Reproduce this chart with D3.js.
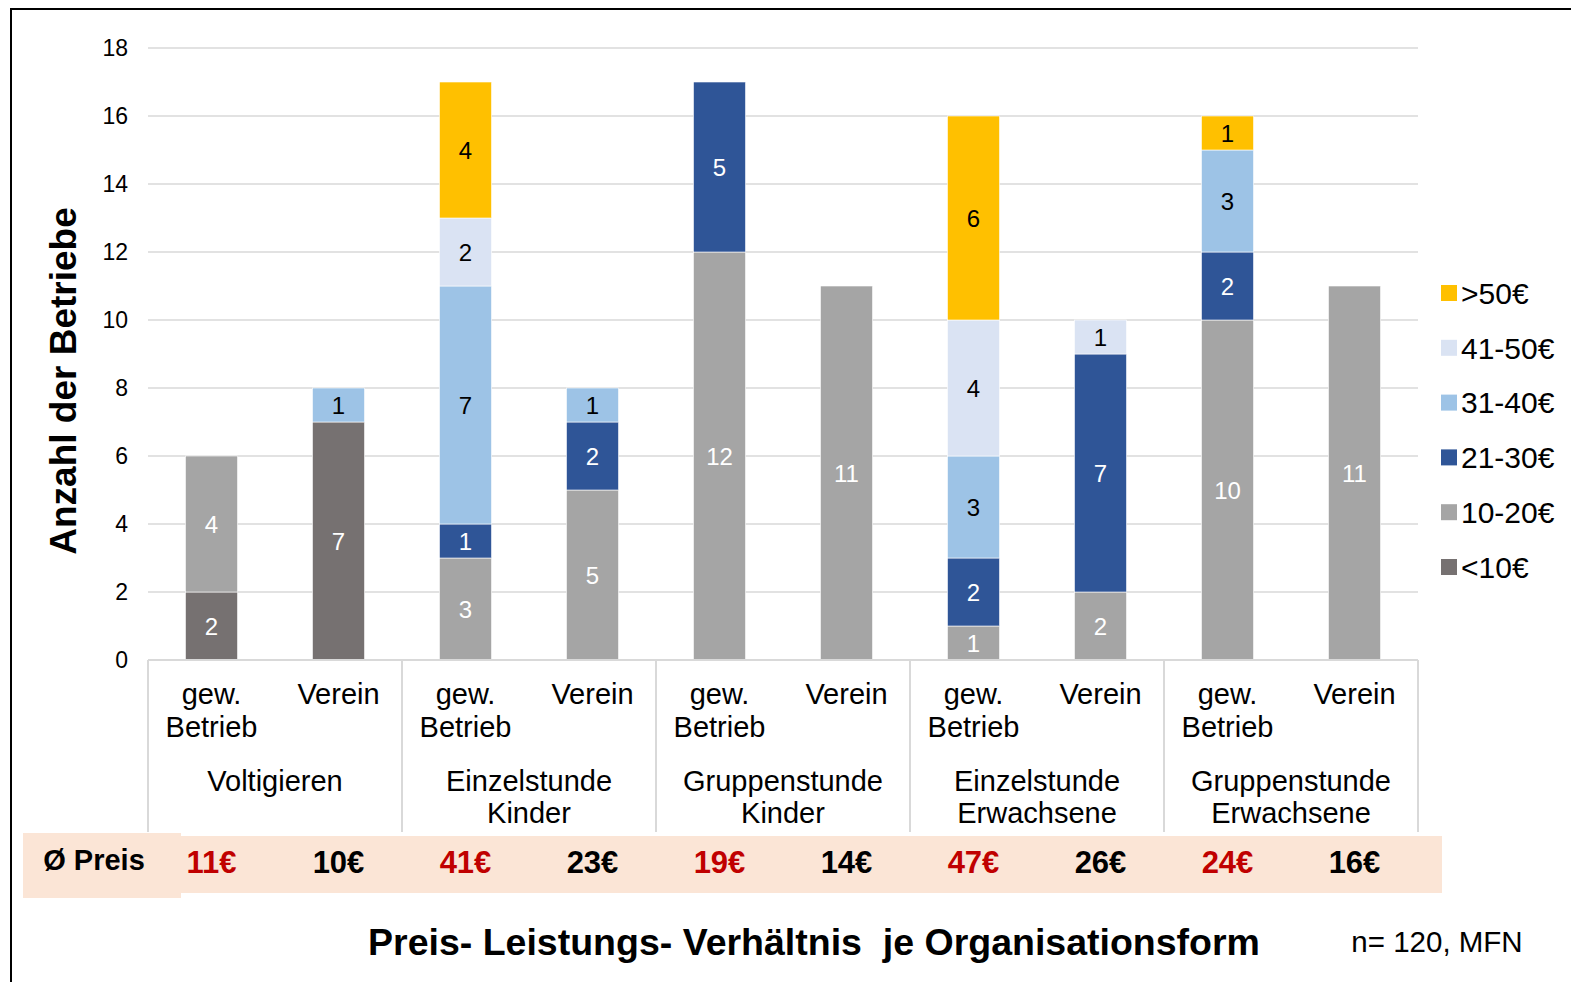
<!DOCTYPE html>
<html>
<head>
<meta charset="utf-8">
<script src="https://cdn.jsdelivr.net/npm/d3@7"></script>
<style>
  body { margin: 0; background: #fff; }
  svg { display: block; font-family: Arial, "Liberation Sans", sans-serif; }
</style>
</head>
<body>
<div id="chart"></div>
<script>

// data
var groups = ["Voltigieren", "Einzelstunde\nKinder", "Gruppenstunde\nKinder", "Einzelstunde\nErwachsene", "Gruppenstunde\nErwachsene"];
var orgForms = ["gew.\nBetrieb", "Verein"];
var priceClasses = ["<10€", "10-20€", "21-30€", "31-40€", "41-50€", ">50€"];
var classColors = ["#767171", "#A5A5A5", "#2F5597", "#9DC3E6", "#DAE3F3", "#FFC000"];
var labelColors = ["#fff", "#fff", "#fff", "#000", "#000", "#000"];

// one entry per bar, in order; one array per price class
var under10   = [2, 7, 0, 0, 0, 0, 0, 0, 0, 0];
var p10to20   = [4, 0, 3, 5, 12, 11, 1, 2, 10, 11];
var p21to30   = [0, 0, 1, 2, 5, 0, 2, 7, 2, 0];
var p31to40   = [0, 1, 7, 1, 0, 0, 3, 0, 3, 0];
var p41to50   = [0, 0, 2, 0, 0, 0, 4, 1, 0, 0];
var over50    = [0, 0, 4, 0, 0, 0, 6, 0, 1, 0];
var avgPrice  = ["11€", "10€", "41€", "23€", "19€", "14€", "47€", "26€", "24€", "16€"];

var yTicks = [0, 2, 4, 6, 8, 10, 12, 14, 16, 18];

var W = 1571, H = 982;
var plot = {left: 148, right: 1418, top: 48, bottom: 660};

var svg = d3.select("#chart").append("svg")
	.attr("width", W)
	.attr("height", H);

// outer frame
svg.append("rect")
	.attr("x", 11).attr("y", 9)
	.attr("width", W + 20).attr("height", H + 20)
	.attr("fill", "none")
	.attr("stroke", "#000")
	.attr("stroke-width", 2);

var series = [under10, p10to20, p21to30, p31to40, p41to50, over50];
var bars = d3.range(10).map(function(i){
	var row = {id: i};
	priceClasses.forEach(function(c, k){ row[c] = series[k][i]; });
	return row;
});

var y = d3.scaleLinear().domain([0, 18]).range([plot.bottom, plot.top]);
var xGroup = d3.scaleBand().domain(d3.range(groups.length)).range([plot.left, plot.right]);
var xBar = d3.scaleBand().domain(d3.range(bars.length)).range([plot.left, plot.right]).paddingInner(0.59).paddingOuter(0.295);

// gridlines
svg.append("g").selectAll("line").data(yTicks.slice(1))
	.enter().append("line")
	.attr("x1", plot.left).attr("x2", plot.right)
	.attr("y1", function(d){ return y(d); })
	.attr("y2", function(d){ return y(d); })
	.attr("stroke", "#D9D9D9")
	.attr("stroke-width", 1.5);

// y axis labels
var yAxis = svg.append("g")
	.attr("transform", "translate(" + (plot.left - 20) + ",0)")
	.call(d3.axisLeft(y).tickValues(yTicks).tickSize(0).tickPadding(0));
yAxis.select(".domain").remove();
yAxis.selectAll("text")
	.attr("font-size", 23)
	.attr("font-family", "Arial, 'Liberation Sans', sans-serif")
	.attr("fill", "#000");

// stacked bars
var stack = d3.stack().keys(priceClasses)(bars);

var layers = svg.append("g").selectAll("g").data(stack)
	.enter().append("g")
	.attr("fill", function(d, k){ return classColors[k]; });

layers.selectAll("rect").data(function(d){ return d.filter(function(s){ return s[1] > s[0]; }); })
	.enter().append("rect")
	.attr("x", function(d){ return xBar(d.data.id); })
	.attr("y", function(d){ return y(d[1]); })
	.attr("width", xBar.bandwidth())
	.attr("height", function(d){ return y(d[0]) - y(d[1]); })
	.attr("stroke", "#fff")
	.attr("stroke-width", 0.6);

layers.each(function(layer, k){
	d3.select(this).selectAll("text").data(layer.filter(function(s){ return s[1] > s[0]; }))
		.enter().append("text")
		.attr("x", function(d){ return xBar(d.data.id) + xBar.bandwidth() / 2; })
		.attr("y", function(d){ return y((d[0] + d[1]) / 2); })
		.attr("dy", "0.36em")
		.attr("text-anchor", "middle")
		.attr("font-size", 24)
		.attr("fill", labelColors[k])
		.text(function(d){ return d[1] - d[0]; });
});

// category axis
var axisG = svg.append("g").attr("stroke", "#D9D9D9").attr("stroke-width", 2);
axisG.append("line")
	.attr("x1", plot.left).attr("x2", plot.right)
	.attr("y1", plot.bottom).attr("y2", plot.bottom);
axisG.selectAll("line.sep").data(d3.range(groups.length + 1))
	.enter().append("line")
	.attr("class", "sep")
	.attr("x1", function(g){ return plot.left + g * xGroup.bandwidth(); })
	.attr("x2", function(g){ return plot.left + g * xGroup.bandwidth(); })
	.attr("y1", plot.bottom).attr("y2", 832);

function multiline(sel, lines, lineHeight){
	lines.forEach(function(l, i){
		sel.append("tspan")
			.attr("x", sel.attr("x"))
			.attr("dy", i == 0 ? 0 : lineHeight)
			.text(l);
	});
}

var labels = svg.append("g").attr("font-size", 29).attr("fill", "#000").attr("text-anchor", "middle");
bars.forEach(function(b){
	var t = labels.append("text")
		.attr("x", xBar(b.id) + xBar.bandwidth() / 2)
		.attr("y", 704);
	multiline(t, orgForms[b.id % 2].split("\n"), 33);
});
groups.forEach(function(g, i){
	var t = labels.append("text")
		.attr("x", xGroup(i) + xGroup.bandwidth() / 2)
		.attr("y", 791);
	multiline(t, g.split("\n"), 32);
});

// average price band
svg.append("rect")
	.attr("x", 181).attr("y", 836)
	.attr("width", 1442 - 181).attr("height", 57)
	.attr("fill", "#FBE5D6");
svg.append("rect")
	.attr("x", 23).attr("y", 833)
	.attr("width", 158).attr("height", 65)
	.attr("fill", "#FBE5D6");
svg.append("text")
	.attr("x", 94).attr("y", 870)
	.attr("text-anchor", "middle")
	.attr("font-size", 29)
	.attr("font-weight", "bold")
	.text("Ø Preis");

svg.append("g").selectAll("text").data(avgPrice)
	.enter().append("text")
	.attr("x", function(d, i){ return xBar(i) + xBar.bandwidth() / 2; })
	.attr("y", 873)
	.attr("text-anchor", "middle")
	.attr("font-size", 31)
	.attr("font-weight", "bold")
	.attr("fill", function(d, i){ return i % 2 == 0 ? "#C00000" : "#000"; })
	.text(function(d){ return d; });

// legend
var legend = svg.append("g").attr("transform", "translate(1440,0)");
var legendRows = priceClasses.slice().reverse();
legend.selectAll("rect").data(legendRows)
	.enter().append("rect")
	.attr("x", 1)
	.attr("y", function(d, i){ return 285 + i * 54.8; })
	.attr("width", 16).attr("height", 16)
	.attr("fill", function(d){ return classColors[priceClasses.indexOf(d)]; });
legend.selectAll("text").data(legendRows)
	.enter().append("text")
	.attr("x", 21)
	.attr("y", function(d, i){ return 293 + i * 54.8; })
	.attr("dy", "0.36em")
	.attr("font-size", 30)
	.text(function(d){ return d; });

// axis title
svg.append("text")
	.attr("transform", "translate(76,381) rotate(-90)")
	.attr("text-anchor", "middle")
	.attr("font-size", 37)
	.attr("font-weight", "bold")
	.text("Anzahl der Betriebe");

// chart title
svg.append("text")
	.attr("x", 814).attr("y", 955)
	.attr("text-anchor", "middle")
	.attr("font-size", 37.5)
	.attr("font-weight", "bold")
	.attr("xml:space", "preserve")
	.style("white-space", "pre")
	.text("Preis- Leistungs- Verhältnis  je Organisationsform");

svg.append("text")
	.attr("x", 1437).attr("y", 952)
	.attr("text-anchor", "middle")
	.attr("font-size", 29.5)
	.text("n= 120, MFN");

</script>
</body>
</html>
